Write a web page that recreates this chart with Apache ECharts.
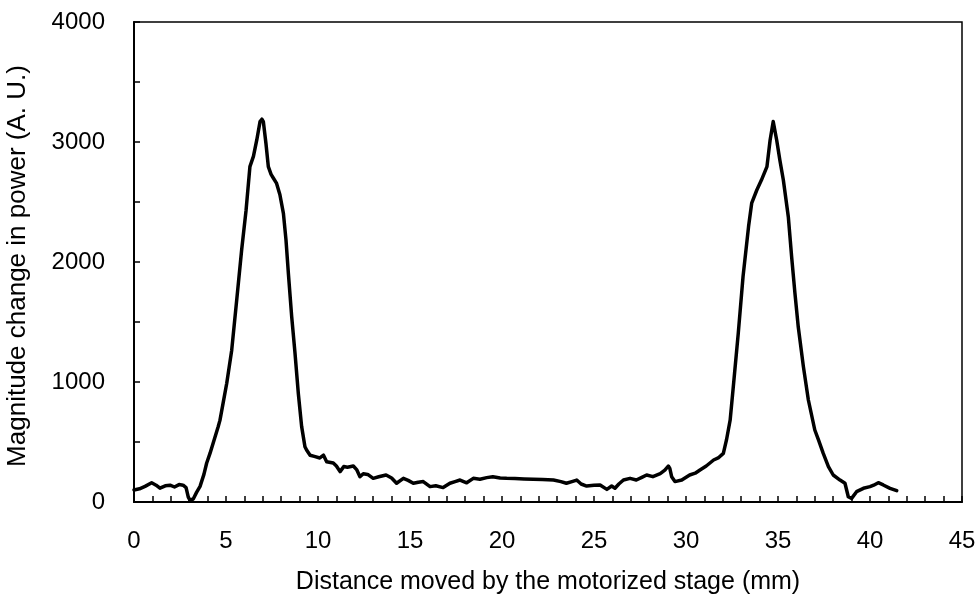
<!DOCTYPE html>
<html>
<head>
<meta charset="utf-8">
<script src="https://cdn.jsdelivr.net/npm/echarts@6/dist/echarts.min.js"></script>
<style>html,body{margin:0;padding:0;background:#fff;}#c{width:980px;height:599px;}</style>
</head>
<body>
<div id="c"></div>
<script>
const xTitle = 'Distance moved by the motorized stage (mm)';
const yTitle = 'Magnitude change in power (A. U.)';
const distance = [0,0.3,0.6,0.96,1.2,1.41,1.7,1.96,2.2,2.45,2.67,2.83,2.95,3.04,3.22,3.4,3.59,3.8,3.95,4.13,4.3,4.57,4.67,4.85,5.04,5.31,5.58,5.85,6.09,6.3,6.49,6.67,6.85,6.95,7.03,7.17,7.3,7.45,7.57,7.75,7.93,8.12,8.26,8.39,8.57,8.75,8.93,9.11,9.29,9.38,9.57,9.8,10.1,10.3,10.47,10.83,11.0,11.2,11.4,11.6,11.92,12.1,12.28,12.46,12.7,13.0,13.3,13.7,14.0,14.27,14.64,14.9,15.18,15.45,15.72,16.09,16.4,16.8,17.17,17.45,17.72,18.08,18.44,18.8,19.17,19.5,19.9,20.25,20.7,21.2,21.7,22.2,22.8,23.2,23.5,23.8,24.06,24.3,24.6,25.0,25.33,25.7,25.96,26.14,26.35,26.6,26.96,27.3,27.6,27.86,28.2,28.6,28.85,29.04,29.12,29.22,29.4,29.77,30.2,30.5,30.76,31.1,31.5,31.75,32.03,32.2,32.4,32.57,32.84,33.1,33.4,33.57,33.85,34.1,34.4,34.57,34.74,34.8,34.93,35.1,35.29,35.56,35.74,35.92,36.1,36.38,36.65,37.0,37.2,37.46,37.74,38.0,38.37,38.64,38.82,39.0,39.27,39.64,40.0,40.2,40.45,40.72,41.09,41.45];
const power = [100,110,130,160,140,115,135,140,125,145,140,120,40,15,25,80,130,230,325,405,490,625,680,830,990,1265,1680,2100,2430,2795,2880,3015,3170,3190,3170,2990,2795,2730,2700,2655,2560,2405,2185,1905,1545,1240,905,630,460,433,390,380,367,390,336,325,300,253,295,290,300,270,211,236,230,197,210,225,200,156,197,180,156,165,170,128,135,120,156,170,183,160,197,190,203,211,200,197,195,192,190,188,183,170,156,170,183,150,133,140,142,105,133,115,150,183,197,183,205,225,211,236,265,300,280,211,170,183,225,240,267,300,350,367,405,517,683,960,1405,1878,2295,2490,2600,2683,2795,3015,3170,3185,3015,2850,2683,2378,2045,1740,1460,1128,850,600,517,405,295,225,183,156,44,30,86,114,128,140,161,142,114,94];
const xTicks = {min: 0, max: 45, step: 5};
const yTicks = {min: 0, max: 4000, step: 1000};

const chart = echarts.init(document.getElementById('c'), null, {renderer: 'canvas'});
const font = 'Liberation Sans';
chart.setOption({
  animation: false,
  backgroundColor: '#fff',
  grid: {left: 134, right: 18, top: 22, bottom: 97, show: true, borderColor: '#000', borderWidth: 1.5, backgroundColor: 'transparent'},
  xAxis: {
    type: 'value', min: xTicks.min, max: xTicks.max, interval: xTicks.step,
    axisLine: {show: true, lineStyle: {color: '#000', width: 2}},
    axisTick: {show: true, inside: true, length: 6, lineStyle: {color: '#000', width: 1.5}},
    minorTick: {show: true, splitNumber: 5, length: 6, lineStyle: {color: '#000', width: 1.5}},
    splitLine: {show: false},
    axisLabel: {color: '#000', fontFamily: font, fontSize: 24, margin: 27, formatter: v => String(v)}
  },
  yAxis: {
    type: 'value', min: yTicks.min, max: yTicks.max, interval: yTicks.step,
    axisLine: {show: true, lineStyle: {color: '#000', width: 2}},
    axisTick: {show: true, inside: true, length: 6, lineStyle: {color: '#000', width: 1.5}},
    minorTick: {show: true, splitNumber: 2, length: 6, lineStyle: {color: '#000', width: 1.5}},
    splitLine: {show: false},
    axisLabel: {color: '#000', fontFamily: font, fontSize: 24, margin: 29, formatter: v => String(v)}
  },
  graphic: [
    {type: 'text', x: 548, y: 582, style: {text: xTitle, fill: '#000', font: '25px "Liberation Sans"', textAlign: 'center', textVerticalAlign: 'middle', align: 'center', verticalAlign: 'middle'}},
    {type: 'text', x: 18, y: 266, rotation: Math.PI / 2, style: {text: yTitle, fill: '#000', font: '26px "Liberation Sans"', textAlign: 'center', textVerticalAlign: 'middle', align: 'center', verticalAlign: 'middle'}}
  ],
  series: [{
    type: 'line', showSymbol: false, smooth: false,
    data: distance.map((d, i) => [d, power[i]]),
    lineStyle: {color: '#000', width: 3.5, join: 'round', cap: 'round'}
  }]
});
</script>
</body>
</html>
